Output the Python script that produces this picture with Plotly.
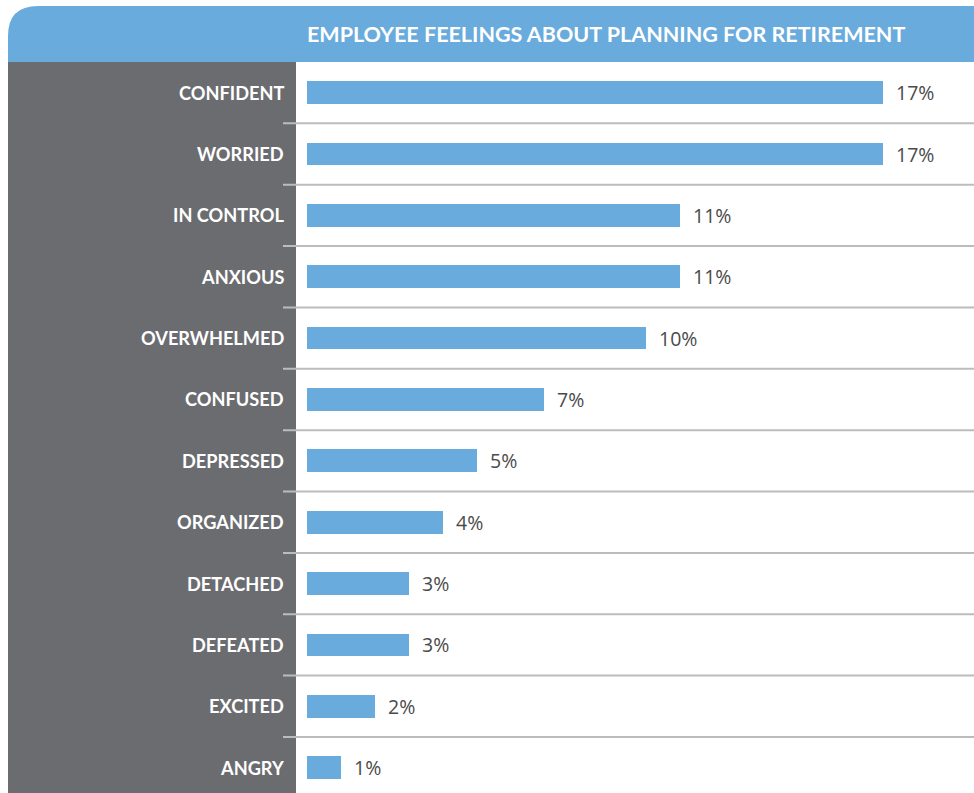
import plotly.graph_objects as go

# Survey data
feelings = ["CONFIDENT", "WORRIED", "IN CONTROL", "ANXIOUS", "OVERWHELMED", "CONFUSED",
            "DEPRESSED", "ORGANIZED", "DETACHED", "DEFEATED", "EXCITED", "ANGRY"]
shares = [17, 17, 11, 11, 10, 7, 5, 4, 3, 3, 2, 1]
title_text = "EMPLOYEE FEELINGS ABOUT PLANNING FOR RETIREMENT"

W, H = 974, 793
BLUE = "#6aabdd"
PANEL = "#6b6c70"
RULE = "#bcbcbc"

def px(x):
    return x / W

def py(y):
    return 1 - y / H

fig = go.Figure()
fig.add_trace(go.Bar(
    x=shares, y=feelings, orientation="h",
    marker=dict(color=BLUE, line=dict(width=0)),
    width=0.37, hoverinfo="skip",
))

shapes = []
# header band with rounded top-left corner
r = 30
path = (f"M {px(8)},{py(62)} L {px(8)},{py(6 + r)} "
        f"Q {px(8)},{py(6)} {px(8 + r)},{py(6)} "
        f"L {px(W)},{py(6)} L {px(W)},{py(62)} Z")
shapes.append(dict(type="path", path=path, xref="paper", yref="paper",
                   fillcolor=BLUE, line=dict(width=0), layer="below"))
# dark label panel
shapes.append(dict(type="rect", xref="paper", yref="paper",
                   x0=px(8), x1=px(296), y0=0, y1=py(62),
                   fillcolor=PANEL, line=dict(width=0), layer="below"))
# row separators
for i in range(len(feelings) - 1):
    shapes.append(dict(type="line", xref="paper", yref="y",
                       x0=px(283), x1=1, y0=i + 0.5, y1=i + 0.5,
                       line=dict(color=RULE, width=2), layer="above"))

annotations = []
for name, v in zip(feelings, shares):
    annotations.append(dict(x=px(286), xref="paper", y=name, yref="y",
                            text=f"<b>{name}</b>", showarrow=False,
                            xanchor="right", yanchor="middle",
                            font=dict(family="Lato", size=18.2, color="white")))
    annotations.append(dict(x=v, xref="x", y=name, yref="y",
                            text=f"{v}%", showarrow=False,
                            xanchor="left", yanchor="middle", xshift=11,
                            font=dict(family="Open Sans", size=19.5, color="#4a4a4a")))
annotations.append(dict(x=px(606), y=py(34), xref="paper", yref="paper",
                        text=f"<b>{title_text}</b>", showarrow=False,
                        xanchor="center", yanchor="middle",
                        font=dict(family="Lato", size=21.5, color="white")))

rows_visible = (H - 62) / 61.36
fig.update_layout(
    width=W, height=H,
    margin=dict(l=0, r=0, t=0, b=0),
    paper_bgcolor="white", plot_bgcolor="rgba(0,0,0,0)",
    showlegend=False,
    xaxis=dict(domain=[px(307), 1], range=[0, (W - 307) / 33.9],
               visible=False, fixedrange=True),
    yaxis=dict(domain=[0, py(62)], type="category",
               categoryorder="array", categoryarray=feelings,
               range=[-0.5 + rows_visible, -0.5],
               visible=False, fixedrange=True),
    shapes=shapes, annotations=annotations,
    bargap=0,
)

fig.write_html("out.html", config={"displayModeBar": False})
